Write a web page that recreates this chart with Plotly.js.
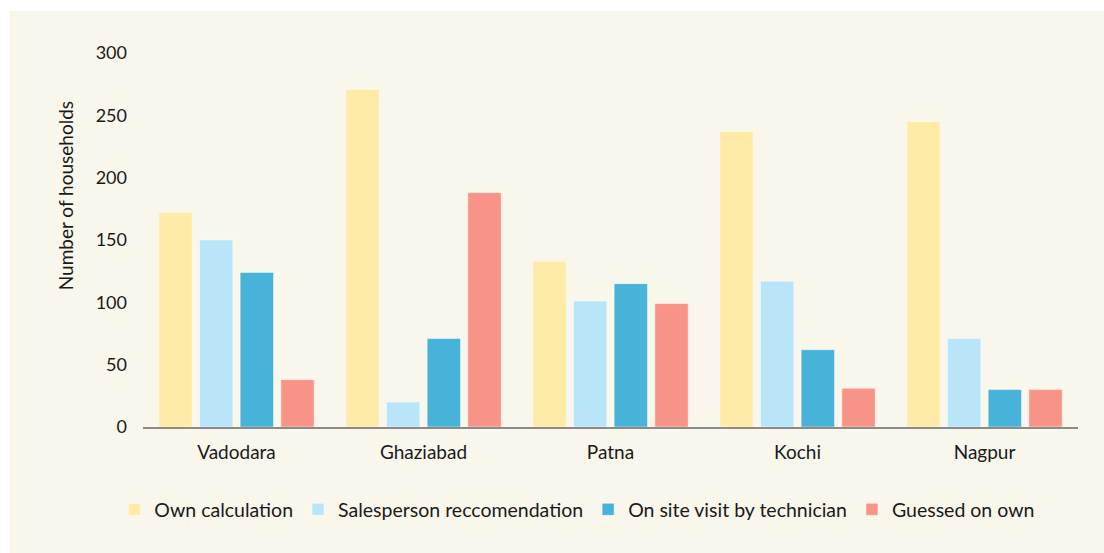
<!DOCTYPE html>
<html>
<head>
<meta charset="utf-8">
<script src="https://cdn.plot.ly/plotly-3.0.1.min.js"></script>
<style>
  html, body { margin: 0; padding: 0; background: #ffffff; width: 1104px; height: 553px; overflow: hidden; }
  #chart { position: absolute; left: 10px; top: 11px; width: 1094px; height: 542px; }
</style>
</head>
<body>
<div id="chart"></div>
<script>
const cities = ["Vadodara", "Ghaziabad", "Patna", "Kochi", "Nagpur"];
const seriesNames = ["Own calculation", "Salesperson reccomendation", "On site visit by technician", "Guessed on own"];
const ownCalculation = [172, 271, 133, 237, 245];
const salesperson = [150, 20, 101, 117, 71];
const technician = [124, 71, 115, 62, 30];
const guessed = [38, 188, 99, 31, 30];
const yTitle = "Number of households";
const colors = ["#FEEBA8", "#B9E5F9", "#48B3D9", "#F79487"];

const values = [ownCalculation, salesperson, technician, guessed];
const font = "Lato, 'Open Sans', sans-serif";

const traces = values.map((v, i) => ({
  type: "bar",
  name: seriesNames[i],
  x: cities,
  y: v,
  marker: { color: colors[i], line: { color: "rgba(255,255,255,0.45)", width: 1 } },
  hoverinfo: "x+y+name"
}));

const layout = {
  width: 1094,
  height: 542,
  paper_bgcolor: "#F9F6EB",
  plot_bgcolor: "#F9F6EB",
  margin: { l: 133, r: 26, t: 42.3, b: 125.7 },
  barmode: "group",
  bargap: 0.13,
  bargroupgap: 0.18,
  font: { family: font, size: 18, color: "#1a1a1a" },
  xaxis: {
    showgrid: false,
    showline: true,
    linecolor: "#8a8a8a",
    linewidth: 1.5,
    ticks: "",
    tickfont: { family: font, size: 19, color: "#1a1a1a" },
    ticklabelstandoff: 8,
    zeroline: false
  },
  yaxis: {
    range: [0, 300],
    tickvals: [0, 50, 100, 150, 200, 250, 300],
    showgrid: false,
    showline: false,
    zeroline: false,
    ticks: "",
    ticklabelstandoff: 15,
    tickfont: { family: font, size: 18, color: "#1a1a1a" }
  },
  annotations: [{
    text: yTitle,
    xref: "paper", yref: "paper",
    x: -0.0834, y: 0.617,
    xanchor: "center", yanchor: "middle",
    textangle: -90,
    showarrow: false,
    font: { family: font, size: 19, color: "#1a1a1a" }
  }],
  legend: {
    orientation: "h",
    x: 0.464,
    xanchor: "center",
    y: -0.221,
    yanchor: "middle",
    font: { family: font, size: 19.5, color: "#1a1a1a" },
    itemwidth: 30,
    bgcolor: "rgba(0,0,0,0)",
    traceorder: "normal"
  },
  showlegend: true
};

Plotly.newPlot("chart", traces, layout, { displayModeBar: false, staticPlot: true });
</script>
</body>
</html>
